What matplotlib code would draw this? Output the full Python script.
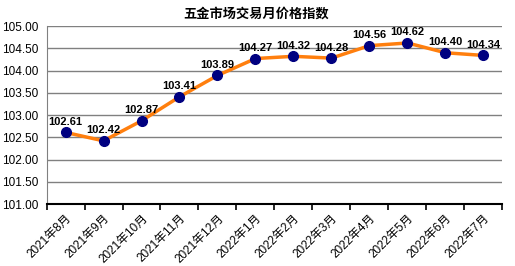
import numpy as np
import matplotlib
matplotlib.use('Agg')
import matplotlib.pyplot as plt

plt.rcParams['font.family'] = ['Liberation Sans', 'Noto Sans CJK SC', 'DejaVu Sans']

months = ['2021年8月', '2021年9月', '2021年10月', '2021年11月', '2021年12月', '2022年1月',
          '2022年2月', '2022年3月', '2022年4月', '2022年5月', '2022年6月', '2022年7月']
index_values = [102.61, 102.42, 102.87, 103.41, 103.89, 104.27,
                104.32, 104.28, 104.56, 104.62, 104.40, 104.34]
y_ticks = [101.0, 101.5, 102.0, 102.5, 103.0, 103.5, 104.0, 104.5, 105.0]

fig = plt.figure(figsize=(5.15, 2.66), dpi=100)
ax = fig.add_axes([0.0903, 0.233, 0.8854, 0.669])

x = np.arange(len(months))
ax.plot(x, index_values, color='#FF7F0E', linewidth=2.5, zorder=3,
        marker='o', markersize=7, markerfacecolor='#000080', markeredgecolor='#000080')

for xi, v in zip(x, index_values):
    ax.annotate('%.2f' % v, (xi, v), xytext=(0, 4), textcoords='offset points',
                ha='center', va='bottom', fontsize=8, fontweight='bold', zorder=4)

ax.set_xlim(-0.5, len(months) - 0.5)
ax.set_ylim(101.0, 105.0)
ax.set_yticks(y_ticks)
ax.set_yticklabels(['%.2f' % t for t in y_ticks], fontsize=8.5)
ax.grid(axis='y', color='#808080', linewidth=1)
ax.set_axisbelow(True)

ax.set_xticks(x)
ax.set_xticklabels(months, rotation=45, ha='right', va='top', fontsize=8.5,
                   rotation_mode='anchor')
ax.tick_params(axis='x', which='major', length=0, pad=6)
ax.set_xticks(np.arange(-0.5, len(months)), minor=True)
ax.tick_params(axis='x', which='minor', length=4, width=1.2, color='black', direction='out')
ax.tick_params(axis='y', length=0, pad=6)

ax.spines['top'].set_visible(False)
ax.spines['right'].set_visible(False)
ax.spines['left'].set_color('#808080')
ax.spines['bottom'].set_color('black')
ax.spines['bottom'].set_linewidth(1.5)

fig.text(0.497, 0.945, '五金市场交易月价格指数', ha='center', va='center',
         fontsize=9.5, fontweight='bold')

fig.savefig('out.png', dpi=100)
